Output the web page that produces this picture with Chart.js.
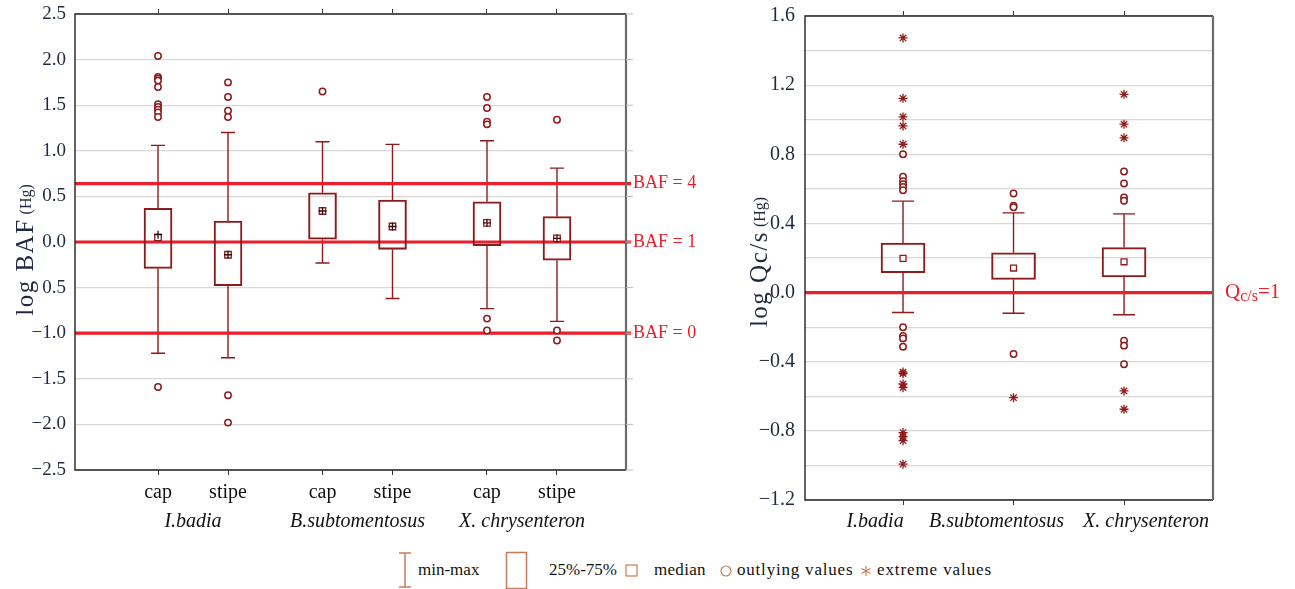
<!DOCTYPE html>
<html>
<head>
<meta charset="utf-8">
<script src="https://cdn.jsdelivr.net/npm/chart.js"></script>
<style>
  body { margin: 0; background: #fff; width: 1295px; height: 589px; position: relative; overflow: hidden; }
  canvas { position: absolute; top: 0; }
  .lg { position: absolute; font-family: 'Liberation Serif', 'Times New Roman', serif; font-size: 17px; color: #111; line-height: 20px; white-space: nowrap; }
  svg { position: absolute; }
</style>
</head>
<body>
<canvas id="bafChart" width="740" height="545" style="left:0;width:740px;height:545px"></canvas>
<canvas id="qChart" width="555" height="545" style="left:740px;width:555px;height:545px"></canvas>

<svg width="16" height="40" style="left:397px;top:550px"><path d="M2 3H14M8 3V37M2 37H14" stroke="#c47d5a" stroke-width="1.5" fill="none"/></svg>
<span class="lg" style="left:418px;top:560px">min-max</span>
<svg width="24" height="40" style="left:505px;top:550px"><rect x="1.5" y="2.5" width="20" height="36" stroke="#c47d5a" stroke-width="1.5" fill="none"/></svg>
<span class="lg" style="left:549px;top:560px">25%-75%</span>
<svg width="14" height="14" style="left:625px;top:564px"><rect x="1" y="1" width="11" height="11" stroke="#c47d5a" stroke-width="1.2" fill="none"/></svg>
<span class="lg" style="left:654px;top:560px;letter-spacing:0.3px">median</span>
<svg width="14" height="14" style="left:719px;top:564px"><circle cx="7" cy="7" r="5" stroke="#c47d5a" stroke-width="1.2" fill="none"/></svg>
<span class="lg" style="left:737px;top:560px;letter-spacing:0.8px">outlying values</span>
<svg width="12" height="12" style="left:860px;top:565px"><path d="M6 1V11M1.5 3.5L10.5 8.5M1.5 8.5L10.5 3.5" stroke="#c47d5a" stroke-width="1.2" fill="none"/></svg>
<span class="lg" style="left:877px;top:560px;letter-spacing:0.9px">extreme values</span>

<script>
const SERIF = "'Liberation Serif', 'Times New Roman', serif";
const DARK = '#8e1b1b';
const REF_RED = '#ea1f2b';
const INK = '#1f2a40';

// ---- left chart: log BAF (Hg) ----
const bafGroups = ['I.badia', 'B.subtomentosus', 'X. chrysenteron'];
const bafParts = ['cap', 'stipe'];
// order: I.badia cap, I.badia stipe, B. cap, B. stipe, X. cap, X. stipe
const bafMin    = [-1.22, -1.27, -0.23, -0.62, -0.73, -0.87];
const bafQ1     = [-0.29, -0.48,  0.03, -0.08, -0.04, -0.20];
const bafMedian = [ 0.05, -0.14,  0.34,  0.17,  0.21,  0.04];
const bafMean   = [ 0.08, -0.14,  0.34,  0.17,  0.21,  0.04];
const bafQ3     = [ 0.37,  0.23,  0.54,  0.46,  0.44,  0.28];
const bafMax    = [ 1.06,  1.20,  1.10,  1.07,  1.11,  0.81];
const bafOutliers = [
  [2.04, 1.81, 1.79, 1.77, 1.70, 1.51, 1.48, 1.45, 1.42, 1.37, -1.59],
  [1.75, 1.59, 1.44, 1.37, -1.68, -1.98],
  [1.65],
  [],
  [1.59, 1.47, 1.32, 1.29, -0.84, -0.97],
  [1.34, -0.97, -1.08]
];
const bafTicks = [-2.5, -2.0, -1.5, -1.0, -0.5, 0, 0.5, 1.0, 1.5, 2.0, 2.5];
const bafTickLabels = ['\u22122.5', '\u22122.0', '\u22121.5', '\u22121.0', '0.5', '0.0', '0.5', '1.0', '1.5', '2.0', '2.5'];
const bafRefValues = [0.64, 0, -1.0];
const bafRefLabels = ['BAF = 4', 'BAF = 1', 'BAF = 0'];

// ---- right chart: log Qc/s (Hg) ----
const qGroups = ['I.badia', 'B.subtomentosus', 'X. chrysenteron'];
const qMin    = [-0.115, -0.12, -0.128];
const qQ1     = [0.115, 0.076, 0.09];
const qMedian = [0.198, 0.142, 0.178];
const qQ3     = [0.286, 0.23, 0.261];
const qMax    = [0.529, 0.461, 0.455];
const qOutliers = [
  [0.80, 0.67, 0.645, 0.627, 0.611, 0.592, -0.201, -0.251, -0.265, -0.313],
  [0.573, 0.502, 0.494, -0.355],
  [0.70, 0.631, 0.55, 0.531, -0.279, -0.307, -0.415]
];
const qExtremes = [
  [1.473, 1.124, 1.016, 0.964, 0.858, -0.46, -0.469, -0.529, -0.55, -0.81, -0.833, -0.857, -0.993],
  [-0.608],
  [1.147, 0.974, 0.895, -0.569, -0.675]
];
const qTicks = [-1.2, -1.0, -0.8, -0.6, -0.4, -0.2, 0, 0.2, 0.4, 0.6, 0.8, 1.0, 1.2, 1.4, 1.6];
const qTickLabels = ['\u22121.2', '', '\u22120.8', '', '\u22120.4', '', '0.0', '', '0.4', '', '0.8', '', '1.2', '', '1.6'];
const qRefValues = [0];

// x positions: parts 1 apart, groups a bit wider apart
const bafPos = [];
const bafXLabels = [];
bafGroups.forEach((g, gi) => bafParts.forEach((p, pi) => { bafPos.push(gi * 2.35 + pi); bafXLabels.push(p); }));
const qPos = qGroups.map((g, i) => i);

const pts = (pos, lists) => lists.flatMap((arr, i) => arr.map(v => ({ x: pos[i], y: v })));

// whiskers, reference lines, frame, axis titles
const boxExtras = {
  id: 'boxExtras',
  beforeDatasetsDraw(chart, args, o) {
    const { ctx, chartArea: a, scales: { x, y } } = chart;
    ctx.save();
    ctx.strokeStyle = DARK;
    ctx.lineWidth = 1.4;
    o.pos.forEach((p, i) => {
      const px = x.getPixelForValue(p);
      const yMin = y.getPixelForValue(o.min[i]), yQ1 = y.getPixelForValue(o.q1[i]);
      const yQ3 = y.getPixelForValue(o.q3[i]), yMax = y.getPixelForValue(o.max[i]);
      ctx.beginPath();
      ctx.moveTo(px, yQ3); ctx.lineTo(px, yMax);
      ctx.moveTo(px - o.cap, yMax); ctx.lineTo(px + o.cap, yMax);
      ctx.moveTo(px, yQ1); ctx.lineTo(px, yMin);
      ctx.moveTo(px - o.cap, yMin); ctx.lineTo(px + o.cap, yMin);
      ctx.stroke();
    });
    ctx.strokeStyle = REF_RED;
    ctx.lineWidth = 3.2;
    o.refs.forEach(v => {
      const py = y.getPixelForValue(v);
      ctx.beginPath();
      ctx.moveTo(a.left, py); ctx.lineTo(a.right + o.refOver, py);
      ctx.stroke();
    });
    ctx.restore();
  },
  afterDraw(chart, args, o) {
    const { ctx, chartArea: a, scales: { x, y } } = chart;
    ctx.save();
    // frame
    ctx.strokeStyle = '#222';
    ctx.lineWidth = 1.4;
    ctx.beginPath();
    ctx.moveTo(a.right, a.top); ctx.lineTo(a.left, a.top); ctx.lineTo(a.left, a.bottom); ctx.lineTo(a.right, a.bottom);
    ctx.stroke();
    ctx.strokeStyle = '#6a6a6a';
    ctx.lineWidth = 2.2;
    ctx.beginPath();
    ctx.moveTo(a.right, a.top); ctx.lineTo(a.right, a.bottom);
    ctx.stroke();
    if (o.rightTicks) {
      ctx.strokeStyle = '#bbb';
      ctx.lineWidth = 1;
      o.yTicks.forEach(v => {
        const py = y.getPixelForValue(v);
        ctx.beginPath(); ctx.moveTo(a.right, py); ctx.lineTo(a.right + 7, py); ctx.stroke();
      });
    }
    // reference labels
    ctx.fillStyle = REF_RED;
    ctx.textBaseline = 'middle';
    o.refs.forEach((v, i) => {
      const py = y.getPixelForValue(v);
      let tx = a.right + o.refLabelGap;
      if (o.refLabels) {
        ctx.font = '18px ' + SERIF;
        ctx.fillText(o.refLabels[i], tx, py);
      } else {
        ctx.font = '21px ' + SERIF;
        ctx.fillText('Q', tx, py);
        tx += ctx.measureText('Q').width;
        ctx.font = '16px ' + SERIF;
        ctx.fillText('c/s', tx, py + 4);
        tx += ctx.measureText('c/s').width;
        ctx.font = '21px ' + SERIF;
        ctx.fillText('=1', tx, py);
      }
    });
    // italic species labels
    ctx.fillStyle = '#111';
    ctx.font = 'italic 20px ' + SERIF;
    ctx.textAlign = 'center';
    if (o.pairs) {
      o.groups.forEach((g, gi) => {
        const cx = (x.getPixelForValue(o.pos[gi * 2]) + x.getPixelForValue(o.pos[gi * 2 + 1])) / 2;
        ctx.fillText(g, cx, o.groupY);
      });
    } else {
      o.groups.forEach((g, gi) => {
        ctx.fillText(g, x.getPixelForValue(o.pos[gi]) + o.groupShift[gi], o.groupY);
      });
    }
    // y axis title
    ctx.translate(o.titleX, o.titleY);
    ctx.rotate(-Math.PI / 2);
    ctx.fillStyle = INK;
    ctx.textAlign = 'left';
    ctx.letterSpacing = '1.5px';
    ctx.font = '25px ' + SERIF;
    const w1 = ctx.measureText(o.title).width;
    ctx.letterSpacing = '0px';
    ctx.font = '16px ' + SERIF;
    const w2 = ctx.measureText(' (Hg)').width;
    const tx = -(w1 + w2) / 2;
    ctx.letterSpacing = '1.5px';
    ctx.font = '25px ' + SERIF;
    ctx.fillText(o.title, tx, 0);
    ctx.letterSpacing = '0px';
    ctx.font = '16px ' + SERIF;
    ctx.fillText(' (Hg)', tx + w1, 1);
    ctx.restore();
  }
};

function makeChart(id, o) {
  const datasets = [
    {
      type: 'bar',
      data: o.pos.map((p, i) => ({ x: p, y: [o.q1[i], o.q3[i]] })),
      backgroundColor: 'rgba(0,0,0,0)',
      borderColor: DARK,
      borderWidth: 1.4,
      borderSkipped: false,
      barThickness: o.boxW,
      order: 5
    },
    {
      type: 'scatter',
      data: o.pos.map((p, i) => ({ x: p, y: o.median[i] })),
      pointStyle: 'rect', radius: o.medR, borderColor: DARK, borderWidth: 1.3,
      backgroundColor: '#fff', order: 3
    },
    {
      type: 'scatter',
      data: pts(o.pos, o.outliers),
      pointStyle: 'circle', radius: 3.2, borderColor: DARK, borderWidth: 1.5,
      backgroundColor: '#fff', order: 2
    }
  ];
  if (o.extremes) datasets.push({
    type: 'scatter',
    data: pts(o.pos, o.extremes),
    pointStyle: 'star', radius: 4.5, borderColor: DARK, borderWidth: 1.3, order: 1
  });
  if (o.mean) datasets.push({
    type: 'scatter',
    data: o.pos.map((p, i) => ({ x: p, y: o.mean[i] })),
    pointStyle: 'cross', radius: 4, borderColor: '#3a0b0b', borderWidth: 1.3, order: 1
  });

  const setX = s => { s.ticks = o.pos.map(v => ({ value: v })); };
  const noPad = s => { s.paddingTop = 0; s.paddingBottom = 0; s.paddingLeft = 0; s.paddingRight = 0; };
  return new Chart(document.getElementById(id), {
    type: 'bar',
    data: { datasets },
    options: {
      responsive: false,
      animation: false,
      layout: { padding: o.padding },
      plugins: { legend: { display: false }, tooltip: { enabled: false }, boxExtras: o },
      scales: {
        x: {
          type: 'linear', min: o.xMin, max: o.xMax, offset: false,
          afterBuildTicks: setX,
          afterFit: s => { s.height = o.xH; noPad(s); },
          ticks: {
            autoSkip: false, maxRotation: 0, padding: 6, color: '#111',
            font: { family: SERIF, size: 20 },
            callback: (v, i) => o.xLabels ? o.xLabels[i] : ''
          },
          grid: { drawOnChartArea: false, tickLength: 5, color: '#333', offset: false },
          border: { display: false }
        },
        xTop: {
          type: 'linear', position: 'top', min: o.xMin, max: o.xMax, offset: false,
          afterBuildTicks: setX,
          afterFit: s => { s.height = 5; noPad(s); },
          ticks: { display: false },
          grid: { drawOnChartArea: false, tickLength: 5, color: '#333', offset: false },
          border: { display: false }
        },
        y: {
          min: o.yMin, max: o.yMax,
          afterBuildTicks: s => { s.ticks = o.yTicks.map(v => ({ value: v })); },
          afterFit: s => { s.width = o.yW; noPad(s); },
          ticks: {
            autoSkip: false, padding: o.yPad, color: INK,
            font: { family: SERIF, size: o.yFont },
            callback: (v, i) => o.yLabels[i]
          },
          grid: { color: '#d8d8d8', lineWidth: 1.2, drawTicks: false },
          border: { display: false }
        }
      }
    },
    plugins: [boxExtras]
  });
}

makeChart('bafChart', {
  pos: bafPos, xLabels: bafXLabels, groups: bafGroups, pairs: true, groupY: 522,
  min: bafMin, q1: bafQ1, median: bafMedian, mean: bafMean, q3: bafQ3, max: bafMax,
  outliers: bafOutliers,
  xMin: -1.186, xMax: 6.686, xH: 75,
  yMin: -2.5, yMax: 2.5, yTicks: bafTicks, yLabels: bafTickLabels, yW: 75, yPad: 9, yFont: 19,
  padding: { top: 9, right: 114, left: 0, bottom: 0 },
  boxW: 28, cap: 7, medR: 4.6,
  refs: bafRefValues, refLabels: bafRefLabels, refOver: 5, refLabelGap: 7,
  rightTicks: true,
  title: 'log BAF', titleX: 26, titleY: 250
});

makeChart('qChart', {
  pos: qPos, groups: qGroups, groupShift: [-28, -17, 22], groupY: 522,
  min: qMin, q1: qQ1, median: qMedian, q3: qQ3, max: qMax,
  outliers: qOutliers, extremes: qExtremes,
  xMin: -0.887, xMax: 2.805, xH: 45,
  yMin: -1.2, yMax: 1.6, yTicks: qTicks, yLabels: qTickLabels, yW: 65, yPad: 10, yFont: 20,
  padding: { top: 11, right: 82, left: 0, bottom: 0 },
  boxW: 44, cap: 11, medR: 4.2,
  refs: qRefValues, refOver: 0, refLabelGap: 12,
  rightTicks: false,
  title: 'log Qc/s', titleX: 20, titleY: 262
});
</script>
</body>
</html>
